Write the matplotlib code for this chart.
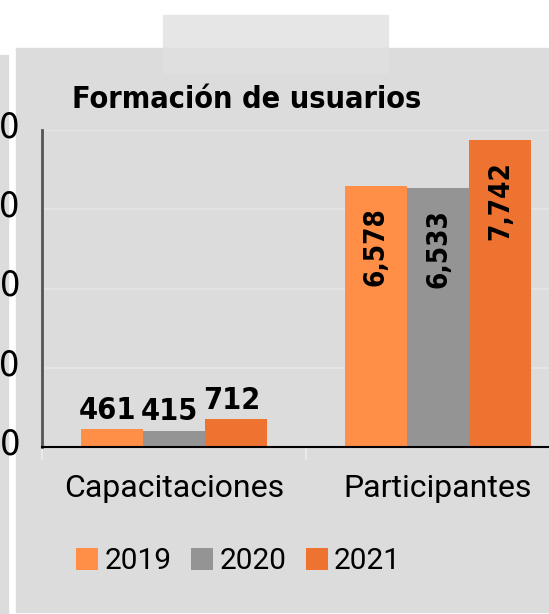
import numpy as np
import matplotlib.pyplot as plt
from matplotlib.patches import Rectangle, Patch
from matplotlib.transforms import ScaledTranslation

categories = ['Capacitaciones', 'Participantes']
years = ['2019', '2020', '2021']
values_2019 = [461, 6578]
values_2020 = [415, 6533]
values_2021 = [712, 7742]
y_ticks = [0, 2000, 4000, 6000, 8000]

colors = ['#FF8F47', '#949494', '#EE7330']
narrow = dict(family='DejaVu Sans', fontstretch='condensed')

fig = plt.figure(figsize=(5.49, 6.14), dpi=100)
fig.patch.set_facecolor('white')

# background panels
fig.patches.append(Rectangle((0, 0), 8/549, 1-55/614, transform=fig.transFigure, color='#DCDCDC', zorder=-2))
fig.patches.append(Rectangle((16/549, 1-612/614), 1, (612-48)/614, transform=fig.transFigure, color='#DCDCDC', zorder=-2))
fig.patches.append(Rectangle((163/549, 1-48/614), 225/549, 33/614, transform=fig.transFigure, color='#E6E6E6', zorder=-2))
fig.patches.append(Rectangle((163/549, 1-73/614), 225/549, 25/614, transform=fig.transFigure, color='#DFDFDF', zorder=-2))

ax = fig.add_axes([42/549, 167/614, 528/549, 317/614])
ax.set_facecolor('none')

x = np.arange(len(categories))
w = 0.235
series = [values_2019, values_2020, values_2021]
for i, vals in enumerate(series):
    bars = ax.bar(x + (i-1)*w, vals, w, color=colors[i], label=years[i], zorder=3)
    for j, b in enumerate(bars):
        v = vals[j]
        cx = b.get_x() + b.get_width()/2
        if v < 2000:
            ax.annotate(f'{v:,}', (cx, v), xytext=(-3, 3), textcoords='offset points',
                        ha='center', va='bottom', fontsize=22, fontweight='bold',
                        color='black', zorder=4, **narrow)
        else:
            ax.annotate(f'{v:,}', (cx, v), xytext=(0, -15), textcoords='offset points',
                        ha='center', va='top', rotation=90, fontsize=20, fontweight='bold',
                        color='black', zorder=4, **narrow)

ax.set_xlim(-0.5, 1.5)
ax.set_ylim(0, 8000)
ax.set_yticks(y_ticks)
ax.set_yticklabels([str(t) for t in y_ticks], fontsize=26, **narrow)
ax.tick_params(axis='y', length=0, pad=15.5)
for lab in ax.get_yticklabels():
    lab.set_transform(lab.get_transform() + ScaledTranslation(0, 6/100, fig.dpi_scale_trans))
ax.set_xticks([-0.5, 0.5, 1.5])
ax.set_xticklabels([])
ax.tick_params(axis='x', length=9, color='#EAEAEA', width=1.5)
ax.grid(axis='y', color='#E4E4E4', linewidth=1.5, zorder=0)
for s in ['top', 'right']:
    ax.spines[s].set_visible(False)
ax.spines['left'].set_color('#555555')
ax.spines['left'].set_linewidth(2)
ax.spines['bottom'].set_color('black')
ax.spines['bottom'].set_linewidth(1.5)
ax.spines['bottom'].set_zorder(5)

for j, c in enumerate(categories):
    ax.text(x[j], -0.13, c, transform=ax.get_xaxis_transform(), ha='center', va='center',
            fontsize=23, family='Roboto', color='black')

fig.text(72/549, 1-100/614, 'Formación de usuarios', ha='left', va='center',
         fontsize=22, fontweight='bold', color='black', **narrow)

handles = [Patch(facecolor=colors[i], label=years[i]) for i in range(3)]
leg = fig.legend(handles=handles, loc='center left', bbox_to_anchor=(76/549, 1-561/614),
                 ncol=3, frameon=False, handlelength=0.75, handleheight=0.75,
                 handletextpad=0.2, columnspacing=0.65, borderaxespad=0, borderpad=0,
                 prop={'family': 'Roboto', 'size': 21.5})

fig.savefig('out.png', dpi=100)
